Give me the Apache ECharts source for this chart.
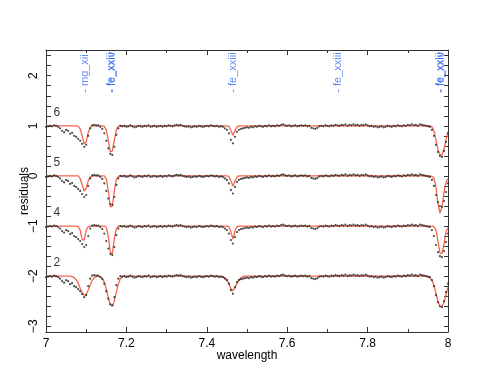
<!DOCTYPE html>
<html>
<head>
<meta charset="utf-8">
<script src="https://cdn.jsdelivr.net/npm/echarts@6/dist/echarts.min.js"></script>
<style>
  html, body { margin: 0; padding: 0; background: #fff; }
  #chart { width: 495px; height: 383px; }
</style>
</head>
<body>
<div id="chart"></div>
<script>
// rows, top to bottom: label and vertical offset
const rowNames = ["6", "5", "4", "2"];
const rowOffsets = [1, 0, -1, -2];

// measured residuals (same spectrum in every row), sampled every 0.005 from 7.0
const dataStart = 7.0;
const dataStep = 0.005;
const dataResid = [
  -0.02, -0.01, 0.00, -0.01, 0.01, 0.00, -0.02, -0.05, -0.10, -0.13,
  -0.08, -0.10, -0.16, -0.14, -0.20, -0.22, -0.26, -0.30, -0.36, -0.42,
  -0.38, -0.20, -0.05, 0.01, 0.02, 0.01, 0.01, -0.02, -0.06, -0.15,
  -0.30, -0.45, -0.56, -0.58, -0.42, -0.18, -0.05, 0.00, -0.01, 0.00,
  -0.02, -0.01, 0.01, -0.01, -0.03, -0.02, 0.00, -0.01, -0.02, 0.00,
  -0.01, 0.01, -0.02, -0.01, 0.00, -0.02, -0.01, 0.00, -0.02, 0.00,
  -0.01, 0.01, 0.00, -0.01, 0.01, 0.02, 0.01, 0.02, 0.00, -0.01,
  -0.02, -0.01, -0.03, -0.02, -0.01, -0.02, 0.00, -0.01, -0.02, -0.01,
  0.00, -0.01, 0.01, 0.00, -0.01, 0.00, -0.02, -0.01, -0.02, -0.05,
  -0.08, -0.15, -0.28, -0.35, -0.22, -0.12, -0.08, -0.06, -0.05, -0.04,
  -0.03, -0.04, -0.02, -0.03, -0.01, -0.02, 0.00, -0.01, -0.02, 0.00,
  -0.01, 0.01, -0.01, 0.00, -0.01, 0.01, 0.00, 0.02, 0.03, 0.01,
  0.00, 0.01, -0.01, 0.00, 0.01, -0.01, 0.00, 0.01, 0.00, 0.01,
  -0.01, 0.00, -0.04, -0.05, -0.06, -0.04, -0.01, 0.00, -0.01, 0.01,
  0.00, -0.01, 0.01, 0.00, 0.02, 0.01, 0.00, 0.02, 0.01, 0.03,
  0.00, 0.02, 0.01, 0.03, 0.01, 0.02, 0.00, 0.02, 0.01, 0.03,
  0.01, -0.01, 0.00, -0.02, -0.01, -0.03, -0.02, -0.01, -0.03, -0.02,
  0.00, -0.01, -0.02, 0.00, -0.01, 0.01, 0.00, -0.01, 0.01, 0.00,
  0.02, 0.01, 0.03, 0.01, 0.02, 0.00, 0.03, 0.02, 0.01, 0.00,
  -0.01, -0.02, -0.08, -0.20, -0.38, -0.52, -0.60, -0.62, -0.50, -0.32,
  -0.15
];

// model wavelengths (dense around the lines)
const modelWave = [
  7.0, 7.06, 7.065, 7.07, 7.075, 7.08, 7.085, 7.09, 7.095, 7.1,
  7.105, 7.11, 7.115, 7.12, 7.125, 7.13, 7.135, 7.14, 7.145, 7.15,
  7.155, 7.16, 7.165, 7.17, 7.175, 7.18, 7.185, 7.19, 7.195, 7.2,
  7.43, 7.44, 7.445, 7.45, 7.455, 7.46, 7.465, 7.47, 7.475, 7.48,
  7.485, 7.49, 7.495, 7.5,
  7.94, 7.945, 7.95, 7.955, 7.96, 7.965, 7.97, 7.975, 7.98, 7.985,
  7.99, 7.995, 8.0
];
// model residuals per row, relative to the row offset
const model6 = [
  0, 0, 0, 0, 0, -0.01, -0.06, -0.2, -0.36, -0.32,
  -0.14, -0.03, 0, 0, 0, 0, 0, 0, -0.01, -0.08,
  -0.3, -0.52, -0.5, -0.28, -0.08, -0.01, 0, 0, 0, 0,
  0, 0, 0, 0, -0.01, -0.1, -0.19, -0.1, -0.02, 0,
  0, 0, 0, 0,
  0, 0, 0, 0, -0.02, -0.1, -0.28, -0.47, -0.58, -0.58,
  -0.46, -0.28, -0.12
];
const model5 = [
  0, 0, 0, 0, 0, 0, -0.05, -0.18, -0.3, -0.25,
  -0.1, -0.02, 0, 0, 0, 0, 0, 0, 0, -0.06,
  -0.3, -0.62, -0.6, -0.3, -0.07, -0.01, 0, 0, 0, 0,
  0, 0, 0, 0, -0.01, -0.1, -0.2, -0.1, -0.02, 0,
  0, 0, 0, 0,
  0, 0, 0, 0, -0.01, -0.05, -0.22, -0.55, -0.74, -0.62,
  -0.33, -0.13, -0.06
];
const model4 = [
  0, 0, 0, 0, 0, -0.01, -0.08, -0.27, -0.28, -0.08,
  -0.01, 0, 0, 0, 0, 0, 0, 0, 0, -0.03,
  -0.2, -0.52, -0.55, -0.25, -0.05, 0, 0, 0, 0, 0,
  0, 0, 0, 0, -0.01, -0.12, -0.26, -0.1, -0.01, 0,
  0, 0, 0, 0,
  0, 0, 0, 0, 0, -0.01, -0.08, -0.3, -0.54, -0.55,
  -0.36, -0.12, -0.03
];
const model2 = [
  0, 0, -0.01, -0.03, -0.07, -0.14, -0.24, -0.33, -0.38, -0.36,
  -0.28, -0.17, -0.08, -0.03, -0.01, 0, -0.01, -0.04, -0.12, -0.26,
  -0.44, -0.57, -0.6, -0.5, -0.32, -0.15, -0.05, -0.01, 0, 0,
  0, -0.01, -0.03, -0.07, -0.15, -0.25, -0.29, -0.24, -0.14, -0.07,
  -0.03, -0.01, 0, 0,
  0, 0, -0.01, -0.03, -0.08, -0.18, -0.34, -0.5, -0.6, -0.61,
  -0.52, -0.37, -0.22
];
const rowModels = [model6, model5, model4, model2];

// line identifications at the top
const lineWave = [7.098, 7.161, 7.165, 7.466, 7.727, 7.979, 7.983];
const lineText = ["- mg_xii", "- fe_xxiii", "- fe_xxiv", "- fe_xxiii", "- fe_xxiii", "- fe_xxiii", "- fe_xxiv"];
const lineLabelY = 1.66;

const xTicks = ["7", "7.2", "7.4", "7.6", "7.8", "8"];
const yTicks = [-3, -2, -1, 0, 1, 2];

const yMin = -3.114;
const yMax = 2.513;
const fontFamily = "Liberation Sans, Arial, sans-serif";

let yMinorTicks = [];
for (let v = -30; v <= 25; v += 2) yMinorTicks.push(v / 10);

let series = [];
rowNames.forEach((name, r) => {
  let off = rowOffsets[r];
  series.push({
    name: "model " + name,
    type: "line",
    data: modelWave.map((w, i) => [w, rowModels[r][i] + off]),
    showSymbol: false,
    smooth: false,
    lineStyle: { color: "#f4654c", width: 1.3 },
    z: 2,
    animation: false,
  });
  series.push({
    name: "data " + name,
    type: "scatter",
    data: dataResid.map((v, i) => [dataStart + dataStep * i, v + off]),
    symbol: "circle",
    symbolSize: 2.2,
    itemStyle: { color: "#222" },
    z: 3,
    animation: false,
  });
  series.push({
    name: "label " + name,
    type: "scatter",
    data: [[7.027, off + 0.26]],
    symbolSize: 0,
    label: {
      show: true,
      formatter: name,
      position: "inside",
      color: "#000",
      fontSize: 12,
      fontFamily: fontFamily,
    },
    animation: false,
  });
});

series.push({
  name: "lines",
  type: "scatter",
  data: lineWave.map((w, i) => ({ value: [w, lineLabelY], text: lineText[i] })),
  symbolSize: 0,
  label: {
    show: true,
    position: "inside",
    rotate: 90,
    align: "left",
    verticalAlign: "middle",
    formatter: (p) => p.data.text,
    color: "#3b6cf2",
    fontSize: 11,
    fontFamily: fontFamily,
  },
  animation: false,
});

const axisLine = { show: true, onZero: false, lineStyle: { color: "#333", width: 1 } };

let option = {
  backgroundColor: "#fff",
  animation: false,
  grid: { left: 46, right: 47, top: 50, bottom: 51 },
  xAxis: [
    {
      type: "value",
      min: 7,
      max: 8,
      interval: 0.2,
      position: "bottom",
      name: "wavelength",
      nameLocation: "middle",
      nameGap: 18,
      nameMoveOverlap: false,
      nameTextStyle: { color: "#000", fontSize: 12, fontFamily: fontFamily },
      axisLine: axisLine,
      axisTick: { show: true, inside: true, length: 5, lineStyle: { color: "#333" } },
      minorTick: { show: true, splitNumber: 2, length: 3, lineStyle: { color: "#333" } },
      axisLabel: {
        color: "#000",
        fontSize: 12,
        fontFamily: fontFamily,
        margin: 6,
        formatter: (v) => xTicks[Math.round((v - 7) / 0.2)],
      },
      splitLine: { show: false },
    },
    {
      type: "value",
      min: 7,
      max: 8,
      interval: 0.2,
      position: "top",
      axisLine: axisLine,
      axisTick: { show: true, inside: true, length: 5, lineStyle: { color: "#333" } },
      minorTick: { show: true, splitNumber: 2, length: 3, lineStyle: { color: "#333" } },
      axisLabel: { show: false },
      splitLine: { show: false },
    },
  ],
  yAxis: [
    {
      type: "value",
      min: yMin,
      max: yMax,
      position: "left",
      name: "residuals",
      nameLocation: "middle",
      nameGap: 15,
      nameMoveOverlap: false,
      nameRotate: 90,
      nameTextStyle: { color: "#000", fontSize: 12, fontFamily: fontFamily },
      axisLine: axisLine,
      axisTick: {
        show: true,
        inside: true,
        length: 5,
        customValues: yMinorTicks,
        lineStyle: { color: "#333" },
      },
      axisLabel: {
        color: "#000",
        fontSize: 12,
        fontFamily: fontFamily,
        rotate: 90,
        margin: 6,
        customValues: yTicks,
        formatter: (v) => String(v).replace("-", "\u2212"),
      },
      splitLine: { show: false },
    },
    {
      type: "value",
      min: yMin,
      max: yMax,
      position: "right",
      axisLine: axisLine,
      axisTick: {
        show: true,
        inside: true,
        length: 4,
        customValues: yMinorTicks,
        lineStyle: { color: "#333" },
      },
      axisLabel: { show: false },
      splitLine: { show: false },
    },
  ],
  series: series,
};

let chart = echarts.init(document.getElementById("chart"), null, { renderer: "canvas" });
chart.setOption(option);
</script>
</body>
</html>
